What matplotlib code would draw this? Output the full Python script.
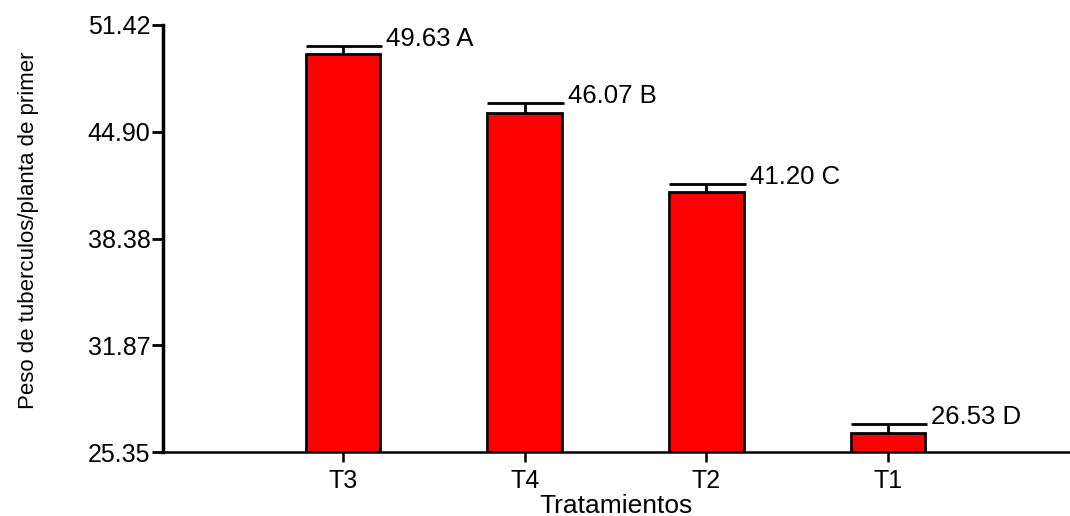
import matplotlib
matplotlib.use("Agg")
import matplotlib.pyplot as plt
import numpy as np

categories = ["T3", "T4", "T2", "T1"]
values = [49.63, 46.07, 41.20, 26.53]
errors = [0.5, 0.6, 0.5, 0.55]
letters = ["A", "B", "C", "D"]
yticks = [25.35, 31.87, 38.38, 44.90, 51.42]
ytick_labels = ["25.35", "31.87", "38.38", "44.90", "51.42"]

plt.rcParams['font.family'] = ['Liberation Sans', 'DejaVu Sans']

fig = plt.figure(figsize=(10.7, 5.16), dpi=100)
ax = fig.add_axes([0.1523, 0.124, 0.8477, 0.8276])

x = np.arange(len(categories))
width = 0.41
base = yticks[0]
ax.bar(x, [v - base for v in values], width=width, bottom=base,
       color="#ff0000", edgecolor="black", linewidth=2, zorder=2)

for xi, v, e, l in zip(x, values, errors, letters):
    top = v + e
    ax.plot([xi, xi], [v, top], color="black", lw=2, zorder=3, solid_capstyle="butt")
    ax.plot([xi - width / 2, xi + width / 2 + 0.01], [top, top], color="black", lw=2,
            zorder=3, solid_capstyle="butt")
    ax.annotate(f"{v:.2f} {l}", xy=(xi + width / 2 + 0.01, top), xytext=(3, 0),
                textcoords="offset points", ha="left", va="baseline", fontsize=18.5)

ax.set_ylim(base, yticks[-1])
ax.set_xlim(-0.99, 4.0)
ax.set_yticks(yticks)
ax.set_yticklabels(ytick_labels, fontsize=18)
ax.set_xticks(x)
ax.set_xticklabels(categories, fontsize=18)

for s in ["top", "right"]:
    ax.spines[s].set_visible(False)
ax.spines["left"].set_linewidth(2.5)
ax.spines["bottom"].set_linewidth(1.8)
ax.tick_params(axis="y", length=8, width=2, pad=1)
ax.tick_params(axis="x", length=7, width=1.8, pad=5)

ax.set_xlabel("Tratamientos", fontsize=19)
ax.xaxis.set_label_coords(0.5, -0.098)
ax.set_ylabel("Peso de tuberculos/planta de primer", fontsize=16)
ax.yaxis.set_label_coords(-0.137, 0.52)

fig.savefig("out.png", dpi=100)
